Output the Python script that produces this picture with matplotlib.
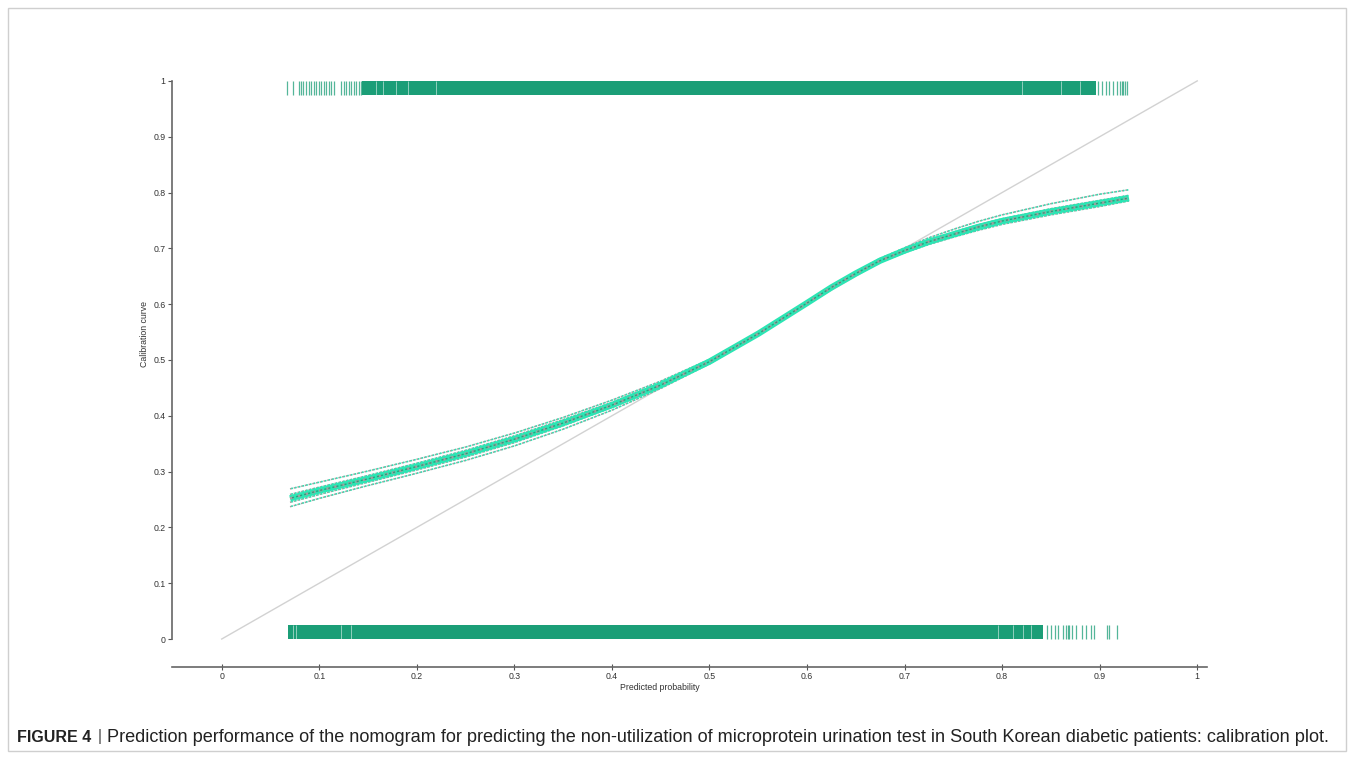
import numpy as np
import matplotlib.pyplot as plt
from matplotlib.patches import Rectangle

# calibration curves
x_pts = [0.07, 0.1, 0.15, 0.2, 0.25, 0.3, 0.35, 0.4, 0.45, 0.5, 0.55, 0.6,
         0.625, 0.65, 0.675, 0.7, 0.725, 0.75, 0.775, 0.8, 0.85, 0.9, 0.93]
main_y = [0.252, 0.266, 0.287, 0.309, 0.332, 0.358, 0.387, 0.419, 0.455, 0.497, 0.547, 0.602,
          0.630, 0.655, 0.678, 0.696, 0.712, 0.725, 0.738, 0.749, 0.766, 0.781, 0.790]
upper_y = [0.269, 0.281, 0.301, 0.322, 0.344, 0.369, 0.397, 0.428, 0.462, 0.501, 0.549, 0.603,
           0.632, 0.658, 0.682, 0.701, 0.719, 0.734, 0.748, 0.760, 0.780, 0.797, 0.805]
upper2_y = [0.259, 0.272, 0.293, 0.315, 0.338, 0.364, 0.393, 0.424, 0.459, 0.499, 0.548, 0.602,
            0.631, 0.656, 0.680, 0.698, 0.715, 0.729, 0.742, 0.753, 0.771, 0.786, 0.795]
lower_y = [0.237, 0.252, 0.275, 0.297, 0.320, 0.346, 0.376, 0.410, 0.449, 0.493, 0.545, 0.601,
           0.628, 0.652, 0.675, 0.692, 0.707, 0.720, 0.732, 0.743, 0.760, 0.775, 0.785]
lower2_y = [0.245, 0.259, 0.281, 0.303, 0.326, 0.352, 0.382, 0.415, 0.452, 0.495, 0.546, 0.601,
            0.629, 0.653, 0.676, 0.694, 0.709, 0.722, 0.735, 0.746, 0.763, 0.778, 0.787]

# rug marks
top_dense = [0.144, 0.896]
top_ticks = [0.0673, 0.0731, 0.0789, 0.0809, 0.0833, 0.0868, 0.0891, 0.0919, 0.0946,
             0.097, 0.0997, 0.1021, 0.1048, 0.1073, 0.11, 0.1124, 0.1148, 0.1226,
             0.125, 0.1277, 0.1305, 0.1329, 0.1352, 0.138, 0.1407, 0.1431,
             0.898, 0.902, 0.906, 0.910, 0.914, 0.918, 0.9208, 0.9228, 0.9242,
             0.9256, 0.9283]
top_gaps = [0.1585, 0.1653, 0.179, 0.1909, 0.22, 0.82, 0.86, 0.88]
bottom_dense = [0.068, 0.842]
bottom_ticks = [0.846, 0.850, 0.854, 0.857, 0.862, 0.865, 0.867, 0.869, 0.872, 0.876,
                0.882, 0.886, 0.891, 0.894, 0.907, 0.910, 0.918]
bottom_gaps = [0.073, 0.0765, 0.1226, 0.1329, 0.7954, 0.8108, 0.821, 0.8296]

ticks = [0, 0.1, 0.2, 0.3, 0.4, 0.5, 0.6, 0.7, 0.8, 0.9, 1]
tick_labels = ['0', '0.1', '0.2', '0.3', '0.4', '0.5', '0.6', '0.7', '0.8', '0.9', '1']

caption_bold = "FIGURE 4"
caption_text = ("Prediction performance of the nomogram for predicting the non-utilization "
                "of microprotein urination test in South Korean diabetic patients: calibration plot.")

rug_col = '#1b9e77'
cyan = '#2ae6b4'
grey = '#a0a0a0'

plt.rcParams['font.family'] = ['Liberation Sans', 'DejaVu Sans']
fig = plt.figure(figsize=(13.53, 7.57), dpi=100)
ax = fig.add_axes([0.1271, 0.119, 0.765, 0.7815])
ax.set_xlim(-0.051, 1.01)
ax.set_ylim(-0.05, 1.01)

# diagonal
ax.plot([0, 1], [0, 1], color='#d2d2d2', lw=1, zorder=1)

# rugs
ax.fill_between(top_dense, 0.975, 1.0, color=rug_col, lw=0, zorder=2)
ax.vlines(top_ticks, 0.975, 1.0, color=rug_col, lw=0.9, alpha=0.75, zorder=2)
ax.vlines(top_gaps, 0.975, 1.0, color='white', lw=0.6, alpha=0.6, zorder=3)
ax.fill_between(bottom_dense, 0.0, 0.025, color=rug_col, lw=0, zorder=2)
ax.vlines(bottom_ticks, 0.0, 0.025, color=rug_col, lw=0.9, alpha=0.75, zorder=2)
ax.vlines(bottom_gaps, 0.0, 0.025, color='white', lw=0.6, alpha=0.6, zorder=3)

# calibration curves
for ys in [upper_y, lower_y, upper2_y, lower2_y]:
    ax.plot(x_pts, ys, color=grey, lw=1.1, ls=(0, (1.5, 1.0)), zorder=4)
    ax.plot(x_pts, ys, color=cyan, lw=1.1, ls=(1.5, (1.0, 1.5)), zorder=5)
ax.plot(x_pts, main_y, color=cyan, lw=4.5, zorder=6, solid_capstyle='butt')
ax.plot(x_pts, main_y, color=grey, lw=1.8, ls=(0, (1.5, 1.5)), zorder=7)
ax.plot(x_pts, main_y, color='#27a07c', lw=1.0, ls=(1.5, (1.5, 1.5)), zorder=7)

# axes styling
for s in ['top', 'right']:
    ax.spines[s].set_visible(False)
ax.spines['left'].set_bounds(0, 1)
ax.spines['left'].set_position(('data', -0.051))
ax.spines['left'].set_color('#666666')
ax.spines['left'].set_linewidth(1.2)
ax.spines['bottom'].set_color('#666666')
ax.spines['bottom'].set_linewidth(1.2)
ax.set_xticks(ticks)
ax.set_xticklabels(tick_labels)
ax.set_yticks(ticks)
ax.set_yticklabels(tick_labels)
ax.tick_params(axis='x', direction='inout', length=4, width=0.8, colors='#555555',
               labelsize=6.3, labelcolor='#333333', pad=2)
ax.tick_params(axis='y', direction='out', length=3, width=0.8, colors='#555555',
               labelsize=6.3, labelcolor='#333333', pad=1.5)
ax.set_xlabel('Predicted probability', fontsize=6.3, color='#333333')
ax.set_ylabel('Calibration curve', fontsize=6.3, color='#333333')
ax.xaxis.set_label_coords(0.4715, -0.028)
ax.yaxis.set_label_coords(-0.022, 0.563)

# frame around the figure
fig.patches.append(Rectangle((8 / 1353, 6 / 757), 1338 / 1353, 743 / 757,
                             transform=fig.transFigure, fill=False,
                             ec='#cfcfcf', lw=1))

# caption
cy = (757 - 737) / 757
fig.canvas.draw()
r = fig.canvas.get_renderer()
fs = 11.5
t1 = fig.text(17 / 1353, cy, caption_bold, fontsize=fs, weight='bold',
              va='center', ha='left', color='#222222')
bb = t1.get_window_extent(r)
t2 = fig.text(bb.x1 / 1353 + 6 / 1353, cy, '|', fontsize=fs, va='center',
              ha='left', color='#444444')
bb2 = t2.get_window_extent(r)
t3 = fig.text(bb2.x1 / 1353 + 6 / 1353, cy, caption_text, fontsize=fs,
              va='center', ha='left', color='#222222')
bb3 = t3.get_window_extent(r)
# fit caption width so it ends near x=1334
t3.set_fontsize(fs * (1334 - bb3.x0) / (bb3.x1 - bb3.x0))

fig.savefig('out.png', dpi=100)
